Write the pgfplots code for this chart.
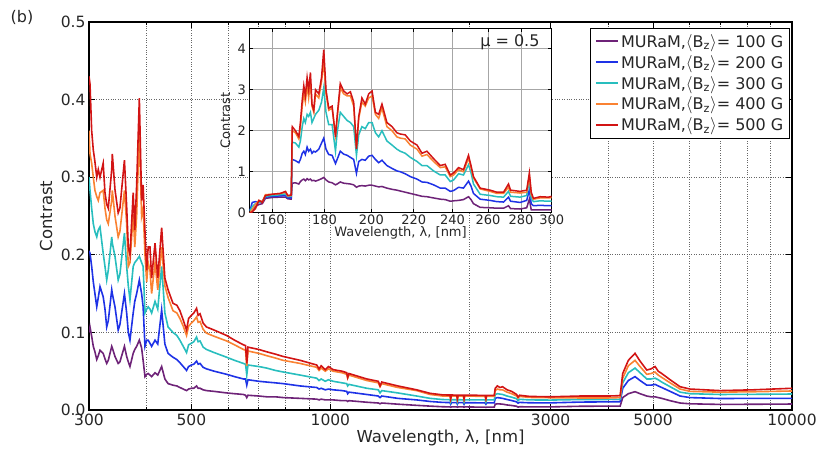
\documentclass[border=0pt]{standalone}
\usepackage{fontspec}
\setmainfont{DejaVu Sans}
\usepackage{pgfplots}
\usepackage{pgfplotstable}
\pgfplotsset{compat=1.18}
\definecolor{muPurple}{RGB}{110,35,120}
\definecolor{muBlue}{RGB}{30,50,230}
\definecolor{muCyan}{RGB}{40,190,190}
\definecolor{muOrange}{RGB}{250,130,50}
\definecolor{muRed}{RGB}{210,20,20}

\pgfplotstableread{
x r o c b p
300 .43 .36 .30 .205 .100
301.5 .42 .33 .283 .202 .107
304 .36 .318 .26 .185 .095
306.5 .335 .30 .24 .165 .082
309 .32 .283 .23 .15 .075
311.8 .30 .275 .223 .133 .065
314.2 .31 .27 .232 .145 .070
316.9 .30 .28 .236 .159 .077
322 .318 .283 .202 .146 .073
324.9 .28 .26 .185 .13 .066
327.7 .265 .245 .1675 .107 .060
330.3 .26 .24 .18 .115 .064
336 .31 .27 .223 .155 .082
337 .33 .283 .215 .15 .080
341.5 .284 .25 .198 .133 .069
347 .254 .223 .1675 .103 .060
350 .26 .23 .175 .11 .062
358 .322 .283 .228 .15 .082
362 .262 .24 .185 .125 .069
365 .21 .185 .16 .10 .062
368 .20 .19 .142 .090 .056
374 .28 .253 .185 .125 .073
377 .232 .21 .19 .14 .078
380.5 .29 .25 .193 .15 .082
385.6 .402 .36 .198 .1675 .09
390 .27 .25 .19 .15 .08
393 .29 .26 .185 .133 .064
396.6 .23 .20 .125 .082 .043
400 .18 .165 .13 .09 .046
403 .21 .19 .133 .09 .047
406.6 .21 .18 .13 .086 .045
410 .17 .15 .125 .082 .043
417 .215 .19 .14 .09 .048
422.7 .17 .155 .13 .085 .045
431 .235 .21 .185 .129 .056
438 .17 .16 .125 .085 .040
445 .155 .145 .107 .073 .034
456 .1375 .128 .10 .068 .032
465 .135 .125 .096 .065 .031
472 .128 .118 .09 .061 .029
480 .116 .108 .082 .056 .027
488 .103 .096 .074 .051 .025
493 .118 .108 .084 .056 .027
500 .122 .112 .086 .058 .028
506 .125 .115 .088 .059 .028
513 .131 .12 .094 .063 .031
517 .122 .113 .088 .059 .028
522 .124 .114 .089 .060 .028
530 .112 .104 .081 .055 .026
539 .107 .099 .078 .053 .025
560 .103 .095 .074 .050 .024
596 .096 .089 .068 .046 .022
620 .090 .084 .064 .043 .021
648 .084 .078 .060 .040 .020
655 .083 .077 .059 .040 .019
659 .060 .057 .045 .032 .016
663 .081 .076 .058 .039 .019
700 .078 .073 .056 .037 .018
728 .075 .070 .054 .036 .017
760 .072 .067 .051 .035 .017
790 .069 .064 .049 .034 .016
860 .064 .060 .045 .031 .015
934 .058 .055 .041 .029 .014
945 .053 .051 .038 .027 .013
955 .057 .054 .040 .028 .014
975 .052 .050 .037 .026 .013
990 .056 .053 .039 .027 .013
1014 .052 .050 .037 .026 .013
1060 .050 .048 .035 .025 .012
1085 .048 .046 .034 .024 .012
1090 .042 .041 .031 .021 .011
1097 .047 .045 .033 .023 .012
1199 .040 .038 .028 .020 .010
1270 .037 .035 .026 .018 .009
1281 .031 .030 .022 .016 .008
1292 .036 .034 .025 .018 .009
1400 .031 .029 .022 .015 .0075
1538 .026 .025 .018 .013 .006
1644 .0215 .020 .015 .011 .005
1750 .0195 .018 .0135 .0098 .0042
1816 .0193 .018 .0133 .0096 .004
1822 .0145 .0135 .010 .0075 .0035
1830 .0193 .018 .0133 .0096 .004
1878 .0192 .018 .0132 .0095 .004
1884 .0145 .0135 .010 .0075 .0035
1892 .0192 .018 .0132 .0095 .004
1941 .0191 .018 .0131 .0094 .004
1948 .0145 .0135 .010 .0075 .0035
1955 .0191 .018 .0131 .0094 .004
2050 .019 .0178 .013 .0093 .0038
2163 .0188 .0176 .013 .0092 .0037
2172 .0145 .0135 .010 .0075 .0033
2180 .0188 .0176 .013 .0092 .0037
2265 .0188 .0176 .013 .0092 .0037
2275 .028 .025 .020 .015 .0075
2300 .031 .027 .021 .016 .008
2330 .029 .026 .0205 .0155 .0078
2360 .030 .026 .020 .015 .0075
2414 .026 .023 .018 .0135 .0065
2470 .024 .021 .0165 .0122 .0058
2532 .020 .018 .0145 .0105 .0048
2550 .0165 .0155 .012 .0088 .0037
2570 .019 .0175 .0138 .0098 .0042
2700 .0175 .0162 .013 .0093 .004
3000 .017 .0158 .0128 .0092 .004
3474 .018 .0155 .0135 .0102 .0048
4000 .018 .0155 .0136 .0105 .005
4243 .0185 .016 .0138 .0107 .005
4298 .047 .041 .035 .028 .016
4420 .064 .057 .048 .038 .021
4570 .073 .064 .054 .043 .0236
4686 .063 .056 .048 .038 .021
4846 .0515 .046 .040 .032 .018
4950 .053 .047 .040 .032 .017
5051 .056 .049 .041 .033 .017
5130 .050 .045 .039 .031 .016
5222 .047 .042 .036 .029 .015
5444 .039 .035 .030 .024 .012
5722 .030 .027 .023 .018 .009
6013 .027 .024 .021 .016 .008
6983 .025 .023 .020 .0148 .0072
8232 .026 .0235 .0202 .015 .0074
10000 .028 .0245 .0206 .015 .0077
}\maindata

\pgfplotstableread{
x r o c b p
152.2 0.0 0.0 0.05 0.05 0.0
153.0 0.02 0.08 0.15 0.25 0.05
154.1 0.1 0.2 0.22 0.27 0.15
155.3 0.3 0.3 0.25 0.25 0.2
156.5 0.25 0.27 0.27 0.28 0.22
157.6 0.42 0.44 0.4 0.38 0.35
160 0.45 0.45 0.42 0.4 0.37
163.0 0.47 0.47 0.44 0.41 0.38
164.9 0.52 0.5 0.46 0.42 0.38
165.7 0.42 0.41 0.39 0.36 0.34
167.0 0.43 0.42 0.40 0.36 0.33
167.4 2.1 2.0 1.72 1.3 0.72
168.6 2.0 1.95 1.7 1.27 0.73
169.9 1.86 1.8 1.6 1.22 0.7
170.5 2.2 2.1 1.75 1.3 0.76
171.2 2.75 2.6 2.1 1.45 0.8
171.8 3.1 2.9 2.3 1.5 0.82
172.4 2.85 2.7 2.2 1.42 0.78
173.1 3.3 3.1 2.4 1.6 0.83
173.7 3.0 2.8 2.35 1.5 0.8
174.4 3.42 3.2 2.45 1.55 0.82
175.0 2.65 2.6 2.2 1.45 0.78
175.7 2.5 2.45 2.3 1.5 0.79
176.4 3.0 2.9 2.4 1.48 0.77
177.7 2.9 2.8 2.5 1.55 0.8
178.8 3.3 3.2 2.7 1.7 0.83
179.7 3.98 3.7 3.05 1.82 0.86
180.6 3.0 2.9 2.45 1.55 0.8
181.7 2.55 2.5 2.15 1.42 0.75
183.1 2.6 2.55 2.15 1.4 0.73
184.5 1.85 1.9 1.5 1.2 0.68
185.2 2.35 2.3 1.95 1.3 0.7
186.5 3.15 3.05 2.45 1.5 0.75
187.9 2.97 2.9 2.35 1.43 0.72
189.4 2.9 2.85 2.25 1.4 0.71
190.8 2.95 2.85 2.2 1.35 0.7
192.2 2.7 2.6 2.1 1.3 0.68
193.4 1.55 1.6 1.4 0.96 0.62
194.4 2.35 2.3 1.9 1.25 0.65
195.8 2.8 2.7 2.1 1.3 0.66
197.3 2.65 2.6 2.05 1.28 0.65
198.8 2.9 2.8 2.2 1.38 0.67
200.3 2.97 2.85 2.2 1.4 0.67
201.8 2.45 2.4 1.95 1.3 0.65
203.3 2.4 2.3 1.85 1.22 0.63
204.8 2.65 2.55 2.0 1.28 0.64
207.1 2.2 2.1 1.75 1.15 0.6
209.5 2.1 2.0 1.65 1.08 0.57
211.8 1.95 1.85 1.55 1.02 0.55
213.4 1.92 1.82 1.5 1.0 0.53
215.8 1.9 1.8 1.45 0.95 0.5
218.3 1.75 1.65 1.35 0.88 0.47
221.6 1.65 1.55 1.25 0.82 0.43
224.1 1.45 1.38 1.15 0.75 0.4
226.6 1.5 1.42 1.15 0.74 0.39
230.0 1.32 1.25 1.02 0.68 0.36
233.5 1.15 1.1 0.92 0.6 0.33
236.1 1.18 1.12 0.92 0.6 0.32
238.8 0.92 0.88 0.76 0.52 0.28
240.6 0.97 0.92 0.8 0.54 0.29
243.3 1.1 1.05 0.95 0.62 0.3
246.0 1.05 1.0 0.92 0.6 0.32
248.8 1.4 1.33 1.17 0.77 0.39
250.2 1.15 1.1 0.98 0.65 0.32
251.6 0.88 0.85 0.7 0.47 0.22
255.4 0.6 0.58 0.45 0.33 0.13
261.2 0.55 0.52 0.42 0.3 0.12
265.2 0.5 0.47 0.39 0.27 0.11
269.2 0.5 0.47 0.38 0.26 0.11
272.2 0.7 0.62 0.52 0.38 0.17
273.5 0.55 0.5 0.4 0.28 0.1
279.4 0.52 0.48 0.38 0.25 0.09
283.6 0.55 0.5 0.42 0.3 0.12
285.3 0.97 0.9 0.8 0.56 0.33
286.5 0.5 0.45 0.35 0.22 0.07
287.9 0.35 0.33 0.27 0.17 0.07
292.3 0.39 0.36 0.29 0.18 0.07
297.8 0.38 0.36 0.28 0.17 0.07
300.0 0.4 0.37 0.28 0.17 0.07
}\insetdata

\begin{document}
\begin{tikzpicture}
\useasboundingbox (-89pt,-42pt) rectangle (732pt,410pt);
\begin{axis}[
  at={(0pt,0pt)}, anchor=south west,
  scale only axis, width=703pt, height=388pt,
  xmode=log, xmin=300, xmax=10000, ymin=0, ymax=0.5,
  xtick={300,500,1000,3000,5000,10000},
  xticklabels={300,500,1000,3000,5000,10000},
  minor xtick={400,600,700,800,900,2000,4000,6000,7000,8000,9000},
  ytick={0,0.1,0.2,0.3,0.4,0.5},
  yticklabels={0.0,0.1,0.2,0.3,0.4,0.5},
  grid=both,
  major grid style={black!60, dotted, line width=0.8pt},
  minor grid style={black!60, dotted, line width=0.8pt},
  tick align=inside, major tick length=6pt, minor tick length=3pt,
  axis line style={line width=1.2pt},
  tick style={black, line width=0.8pt},
  ticklabel style={font=\fontsize{15.5}{18}\selectfont, text=black!85},
  xlabel={Wavelength, λ, [nm]}, ylabel={Contrast},
  label style={font=\fontsize{16.5}{19}\selectfont, text=black!85},
  xlabel style={at={(axis description cs:0.5,-0.072)}, anchor=center},
  ylabel style={at={(axis description cs:-0.061,0.5)}, anchor=center},
  legend style={at={(rel axis cs:0.997,0.985)}, anchor=north east, draw=black, line width=1.2pt,
    font=\fontsize{16}{18}\selectfont, row sep=2.4pt, inner sep=4pt, fill=white, text=black!85},
  legend cell align=left,
  legend image code/.code={\draw[#1, line width=2.2pt] (0pt,0.3pt) -- (22pt,0.3pt);},
]
\addplot[color=muPurple, line width=1.6pt] table[x=x,y=p]{\maindata};
\addlegendentry{MURaM,$\Bigl\langle$B\textsubscript{z}$\Bigr\rangle$= 100 G}
\addplot[color=muBlue, line width=1.6pt] table[x=x,y=b]{\maindata};
\addlegendentry{MURaM,$\Bigl\langle$B\textsubscript{z}$\Bigr\rangle$= 200 G}
\addplot[color=muCyan, line width=1.6pt] table[x=x,y=c]{\maindata};
\addlegendentry{MURaM,$\Bigl\langle$B\textsubscript{z}$\Bigr\rangle$= 300 G}
\addplot[color=muOrange, line width=1.6pt] table[x=x,y=o]{\maindata};
\addlegendentry{MURaM,$\Bigl\langle$B\textsubscript{z}$\Bigr\rangle$= 400 G}
\addplot[color=muRed, line width=1.6pt] table[x=x,y=r]{\maindata};
\addlegendentry{MURaM,$\Bigl\langle$B\textsubscript{z}$\Bigr\rangle$= 500 G}
\end{axis}

\begin{axis}[
  at={(160.3pt,197.3pt)}, anchor=south west,
  scale only axis, width=302.4pt, height=184.4pt,
  xmode=log, xmin=152, xmax=300, ymin=0, ymax=4.5,
  xtick={160,180,200,220,240,260,280,300},
  xticklabels={160,180,200,220,240,260,280,300},
  xminorticks=false,
  ytick={0,1,2,3,4}, yticklabels={0,1,2,3,4},
  grid=major,
  major grid style={black!35, line width=0.8pt},
  axis background/.style={fill=white},
  tick align=inside, major tick length=4pt,
  axis line style={line width=1.2pt},
  tick style={black, line width=0.8pt},
  ticklabel style={font=\fontsize{13}{15}\selectfont, text=black!85},
  xticklabel style={inner sep=2pt},
  xlabel={Wavelength, λ, [nm]}, ylabel={Contrast},
  label style={font=\fontsize{13}{15}\selectfont, text=black!85},
  xlabel style={at={(axis description cs:0.5,-0.112)}, anchor=center},
  ylabel style={at={(axis description cs:-0.079,0.5)}, anchor=center},
]
\addplot[color=muPurple, line width=1.5pt] table[x=x,y=p]{\insetdata};
\addplot[color=muBlue, line width=1.5pt] table[x=x,y=b]{\insetdata};
\addplot[color=muCyan, line width=1.5pt] table[x=x,y=c]{\insetdata};
\addplot[color=muOrange, line width=1.5pt] table[x=x,y=o]{\insetdata};
\addplot[color=muRed, line width=1.5pt] table[x=x,y=r]{\insetdata};
\end{axis}

\node[font=\fontsize{16}{19}\selectfont, text=black!85] at (-67pt,393pt) {(b)};
\node[font=\fontsize{16}{19}\selectfont, text=black!85, anchor=east] at (454pt,368pt) {μ = 0.5};
\end{tikzpicture}
\end{document}
